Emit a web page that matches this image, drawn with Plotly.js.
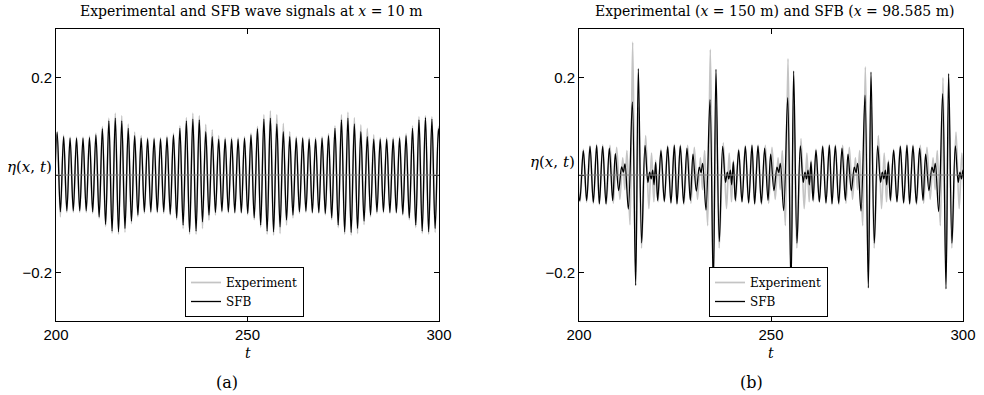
<!DOCTYPE html>
<html><head><meta charset="utf-8">
<script src="https://cdn.plot.ly/plotly-3.0.1.min.js"></script>
<style>html,body{margin:0;padding:0;background:#fff}#chart{width:984px;height:395px}</style>
</head><body><div id="chart"></div>
<script>
const xTicks=[200,250,300];
const yTicks=[-0.2,0,0.2];
const yTickText=['\u22120.2','','0.2'];
const seriesNames=['Experiment','SFB'];

// ---------- (a) x = 10 m : crest and trough values of each wave ----------
const leftPeakT=[200.30,201.99,203.67,205.36,207.05,208.74,210.42,212.11,213.80,215.48,217.17,218.86,220.54,222.23,223.92,225.61,227.29,228.98,230.67,232.35,234.04,235.73,237.41,239.10,240.79,242.48,244.16,245.85,247.54,249.22,250.91,252.60,254.28,255.97,257.66,259.35,261.03,262.72,264.41,266.09,267.78,269.47,271.15,272.84,274.53,276.22,277.90,279.59,281.28,282.96,284.65,286.34,288.02,289.71,291.40,293.09,294.77,296.46,298.15,299.84];
const leftTroughT=[199.46,201.14,202.83,204.51,206.20,207.89,209.58,211.26,212.95,214.64,216.32,218.01,219.70,221.38,223.07,224.76,226.45,228.13,229.82,231.51,233.19,234.88,236.57,238.25,239.94,241.63,243.32,245.00,246.69,248.38,250.06,251.75,253.44,255.12,256.81,258.50,260.19,261.87,263.56,265.25,266.93,268.62,270.31,271.99,273.68,275.37,277.06,278.74,280.43,282.12,283.80,285.49,287.18,288.86,290.55,292.24,293.93,295.61,297.30,298.99,300.68];
const leftSfbPeaks=[0.088,0.079,0.0756,0.0756,0.0756,0.077,0.0825,0.095,0.111,0.117,0.111,0.096,0.081,0.0756,0.0742,0.0742,0.0742,0.077,0.0825,0.096,0.111,0.115,0.113,0.089,0.079,0.0735,0.0735,0.0735,0.0735,0.0756,0.0825,0.095,0.115,0.117,0.105,0.089,0.079,0.0756,0.0756,0.0735,0.0735,0.0756,0.081,0.096,0.113,0.117,0.105,0.089,0.079,0.0735,0.0735,0.0735,0.0735,0.0756,0.081,0.096,0.113,0.118,0.115,0.095];
const leftSfbTroughs=[-0.085,-0.0756,-0.0736,-0.0736,-0.0736,-0.0736,-0.0756,-0.0859,-0.1017,-0.1155,-0.1168,-0.110,-0.095,-0.0825,-0.0756,-0.0756,-0.0756,-0.0756,-0.0804,-0.088,-0.1031,-0.1168,-0.1155,-0.0962,-0.0825,-0.077,-0.0742,-0.0756,-0.077,-0.077,-0.079,-0.088,-0.1031,-0.1155,-0.1168,-0.1065,-0.0928,-0.0825,-0.0756,-0.0742,-0.077,-0.077,-0.079,-0.088,-0.1031,-0.1168,-0.1182,-0.110,-0.0949,-0.0825,-0.0756,-0.0756,-0.077,-0.077,-0.0804,-0.088,-0.1031,-0.1155,-0.1168,-0.110,-0.095];
const leftExpPeaks=[0.089,0.082,0.078,0.078,0.078,0.080,0.086,0.100,0.117,0.127,0.122,0.1045,0.088,0.081,0.077,0.077,0.077,0.080,0.086,0.101,0.118,0.127,0.122,0.104,0.093,0.081,0.077,0.077,0.077,0.079,0.086,0.100,0.124,0.132,0.124,0.106,0.089,0.079,0.078,0.077,0.077,0.079,0.085,0.101,0.124,0.129,0.118,0.103,0.096,0.0825,0.077,0.077,0.077,0.079,0.085,0.101,0.120,0.122,0.120,0.100];
const leftExpTroughs=[-0.090,-0.0859,-0.077,-0.077,-0.077,-0.077,-0.079,-0.089,-0.106,-0.120,-0.122,-0.118,-0.100,-0.086,-0.079,-0.078,-0.078,-0.079,-0.083,-0.092,-0.110,-0.122,-0.122,-0.110,-0.0928,-0.0825,-0.077,-0.078,-0.079,-0.079,-0.082,-0.092,-0.108,-0.122,-0.1237,-0.1203,-0.1031,-0.088,-0.079,-0.077,-0.079,-0.079,-0.082,-0.092,-0.108,-0.122,-0.1237,-0.1203,-0.1017,-0.086,-0.079,-0.078,-0.079,-0.079,-0.083,-0.092,-0.108,-0.1203,-0.122,-0.118,-0.100];

// ---------- (b) experiment x = 150 m, SFB x = 98.585 m : extrema ----------
const rightSfbT=[199.40,200.20,
201.13,202.00,202.87,203.73,204.60,205.30,206.16,207.03,207.90,208.77,209.46,210.33,211.11,211.55,211.98,212.85,213.89,214.76,215.45,216.32,217.19,217.94,218.39,218.79,219.19,219.54,219.97,220.49,
221.35,222.22,223.09,223.95,224.82,225.52,226.38,227.25,228.12,228.99,229.68,230.55,231.33,231.77,232.20,233.07,234.11,234.98,235.67,236.54,237.41,238.16,238.61,239.01,239.41,239.76,240.19,240.71,
241.58,242.45,243.32,244.18,245.05,245.75,246.61,247.48,248.35,249.22,249.91,250.78,251.56,252.00,252.43,253.30,254.34,255.21,255.90,256.77,257.64,258.39,258.84,259.24,259.64,259.99,260.42,260.94,
261.72,262.59,263.46,264.32,265.19,265.89,266.75,267.62,268.49,269.36,270.05,270.92,271.70,272.14,272.57,273.44,274.48,275.35,276.04,276.91,277.78,278.53,278.98,279.38,279.78,280.13,280.56,281.08,
281.94,282.81,283.68,284.54,285.41,286.11,286.97,287.84,288.71,289.58,290.27,291.14,291.92,292.36,292.79,293.66,294.70,295.57,296.26,297.13,298.00,298.75,299.20,299.60,300.00,300.35];
const rightSfbV=[0.026,-0.053,
0.050,-0.0525,0.059,-0.056,0.061,-0.059,0.059,-0.059,0.055,-0.0525,0.044,-0.032,0.0165,0.006,0.023,-0.070,0.150,-0.227,0.2185,-0.1396,0.061,-0.015,0.006,-0.008,0.010,-0.020,0.026,-0.0525,
0.050,-0.054,0.058,-0.057,0.061,-0.059,0.060,-0.058,0.055,-0.052,0.043,-0.033,0.016,0.005,0.024,-0.072,0.155,-0.235,0.217,-0.137,0.059,-0.015,0.006,-0.008,0.010,-0.020,0.027,-0.052,
0.051,-0.055,0.059,-0.057,0.061,-0.059,0.060,-0.058,0.055,-0.052,0.043,-0.032,0.016,0.005,0.024,-0.073,0.159,-0.235,0.2135,-0.140,0.060,-0.015,0.006,-0.008,0.010,-0.020,0.027,-0.052,
0.051,-0.055,0.059,-0.057,0.061,-0.059,0.060,-0.058,0.055,-0.052,0.043,-0.032,0.016,0.005,0.024,-0.074,0.164,-0.232,0.2115,-0.140,0.060,-0.015,0.006,-0.008,0.010,-0.020,0.027,-0.052,
0.051,-0.055,0.059,-0.057,0.061,-0.059,0.060,-0.058,0.055,-0.052,0.043,-0.032,0.016,0.005,0.024,-0.075,0.167,-0.234,0.208,-0.140,0.060,-0.015,0.006,-0.008,0.010,-0.020];
const rightExpT=[199.50,200.30,
201.12,201.99,202.86,203.72,204.59,205.29,206.19,207.09,208.07,208.94,209.81,210.64,211.39,211.94,212.49,213.28,213.98,214.74,215.49,216.29,217.36,218.19,218.89,219.49,219.99,220.59,
221.34,222.21,223.08,223.94,224.81,225.51,226.41,227.31,228.29,229.16,230.03,230.86,231.61,232.16,232.71,233.50,234.20,234.96,235.71,236.51,237.58,238.41,239.11,239.71,240.21,240.81,
241.57,242.44,243.31,244.17,245.04,245.74,246.64,247.54,248.52,249.39,250.26,251.09,251.84,252.39,252.94,253.73,254.43,255.19,255.94,256.74,257.81,258.64,259.34,259.94,260.44,261.04,
261.71,262.58,263.45,264.31,265.18,265.88,266.78,267.68,268.66,269.53,270.40,271.23,271.98,272.53,273.08,273.87,274.57,275.33,276.08,276.88,277.95,278.78,279.48,280.08,280.58,281.18,
281.93,282.80,283.67,284.53,285.40,286.10,287.00,287.90,288.88,289.75,290.62,291.45,292.20,292.75,293.30,294.09,294.79,295.55,296.30,297.10,298.17,299.00,299.70,300.30];
const rightExpV=[0.030,-0.055,
0.053,-0.056,0.061,-0.059,0.063,-0.061,0.062,-0.061,0.0607,-0.058,0.057,-0.050,0.035,-0.030,0.050,-0.1025,0.273,-0.200,0.140,-0.150,0.081,-0.069,0.045,-0.055,0.030,-0.055,
0.053,-0.056,0.061,-0.059,0.063,-0.061,0.062,-0.061,0.0607,-0.058,0.057,-0.050,0.035,-0.030,0.050,-0.104,0.258,-0.200,0.140,-0.150,0.066,-0.069,0.045,-0.055,0.030,-0.055,
0.053,-0.056,0.061,-0.059,0.063,-0.061,0.062,-0.061,0.0607,-0.058,0.057,-0.050,0.035,-0.030,0.050,-0.104,0.239,-0.200,0.140,-0.150,0.075,-0.069,0.045,-0.055,0.030,-0.055,
0.053,-0.056,0.061,-0.059,0.063,-0.061,0.062,-0.061,0.0607,-0.058,0.057,-0.050,0.035,-0.030,0.050,-0.104,0.222,-0.200,0.140,-0.150,0.081,-0.069,0.045,-0.055,0.030,-0.055,
0.053,-0.056,0.061,-0.059,0.063,-0.061,0.062,-0.061,0.0607,-0.058,0.057,-0.050,0.035,-0.030,0.050,-0.104,0.200,-0.200,0.140,-0.150,0.088,-0.069,0.045,-0.055];

function merge(tA,vA,tB,vB){
  const pts=[];
  tA.forEach((t,i)=>pts.push([t,vA[i]]));
  tB.forEach((t,i)=>pts.push([t,vB[i]]));
  pts.sort((a,b)=>a[0]-b[0]);
  return {x:pts.map(p=>p[0]), y:pts.map(p=>p[1])};
}
const lExp=merge(leftPeakT,leftExpPeaks,leftTroughT,leftExpTroughs);
const lSfb=merge(leftPeakT,leftSfbPeaks,leftTroughT,leftSfbTroughs);

const GRAY='#c4c4c4', BLACK='#000000';
const SERIF='DejaVu Serif, Liberation Serif, serif';
const SANS='Liberation Sans, Arial, sans-serif';
const traces=[
  {x:lExp.x,y:lExp.y,name:seriesNames[0],type:'scatter',mode:'lines',line:{color:GRAY,width:1.7,shape:'spline',smoothing:1},xaxis:'x',yaxis:'y',legend:'legend'},
  {x:lSfb.x,y:lSfb.y,name:seriesNames[1],type:'scatter',mode:'lines',line:{color:BLACK,width:1.3,shape:'spline',smoothing:1},xaxis:'x',yaxis:'y',legend:'legend'},
  {x:rightExpT,y:rightExpV,name:seriesNames[0],type:'scatter',mode:'lines',line:{color:GRAY,width:1.7,shape:'spline',smoothing:1},xaxis:'x2',yaxis:'y2',legend:'legend2'},
  {x:rightSfbT,y:rightSfbV,name:seriesNames[1],type:'scatter',mode:'lines',line:{color:BLACK,width:1.3,shape:'spline',smoothing:1},xaxis:'x2',yaxis:'y2',legend:'legend2'}
];
const W=984,H=395;
const px=v=>v/W, py=v=>(H-v)/H;
function xax(dom){return {domain:dom,range:[200,300],tickvals:xTicks,ticktext:xTicks.map(String),ticks:'inside',ticklen:5,tickcolor:'#000',showline:true,linecolor:'#000',linewidth:1,mirror:'ticks',showgrid:false,zeroline:false,tickfont:{family:SANS,size:15,color:'#000'},automargin:false};}
function yax(anchor){return {domain:[py(321),py(29)],range:[-0.3,0.3],anchor:anchor,tickvals:yTicks,ticktext:yTickText,ticks:'inside',ticklen:5,tickcolor:'#000',showline:true,linecolor:'#000',linewidth:1,mirror:'ticks',showgrid:false,zeroline:false,tickfont:{family:SANS,size:15,color:'#000'},automargin:false};}
const legendBase={bgcolor:'#fff',bordercolor:'#000',borderwidth:1,font:{family:SERIF,size:12,color:'#000'},xanchor:'left',yanchor:'bottom',tracegroupgap:0,itemwidth:30};
const ann=(text,x,y,opts)=>Object.assign({text:text,xref:'paper',yref:'paper',x:x,y:y,showarrow:false,font:{family:SERIF,size:14,color:'#000'},xanchor:'center',yanchor:'middle'},opts||{});
const layout={
  width:W,height:H,margin:{l:0,r:0,t:0,b:0},paper_bgcolor:'#fff',plot_bgcolor:'#fff',
  xaxis:Object.assign(xax([px(56),px(439)]),{anchor:'y'}),
  yaxis:yax('x'),
  xaxis2:Object.assign(xax([px(579),px(963)]),{anchor:'y2'}),
  yaxis2:yax('x2'),
  showlegend:true,
  legend:Object.assign({x:px(185),y:py(317)},legendBase),
  legend2:Object.assign({x:px(709),y:py(317)},legendBase),
  shapes:[
    {type:'line',xref:'x domain',yref:'y',x0:0,x1:1,y0:0,y1:0,line:{color:'#808080',width:1},layer:'above'},
    {type:'line',xref:'x2 domain',yref:'y2',x0:0,x1:1,y0:0,y1:0,line:{color:'#808080',width:1},layer:'above'}
  ],
  annotations:[
    ann('Experimental and SFB wave signals at <i>x</i> = 10 m',px(251),py(11)),
    ann('Experimental (<i>x</i> = 150 m) and SFB (<i>x</i> = 98.585 m)',px(774),py(11)),
    ann('<i>t</i>',px(247.5),py(353)),
    ann('<i>t</i>',px(771),py(353)),
    ann('(a)',px(227),py(382),{font:{family:SERIF,size:16,color:'#000'}}),
    ann('(b)',px(751),py(382),{font:{family:SERIF,size:16,color:'#000'}}),
    ann('<i>η</i>(<i>x</i>, <i>t</i>)',px(54),py(167),{xanchor:'right',font:{family:SERIF,size:15,color:'#000'}}),
    ann('<i>η</i>(<i>x</i>, <i>t</i>)',px(577),py(162),{xanchor:'right',font:{family:SERIF,size:15,color:'#000'}})
  ]
};
Plotly.newPlot('chart',traces,layout,{displayModeBar:false,staticPlot:true});
</script></body></html>
